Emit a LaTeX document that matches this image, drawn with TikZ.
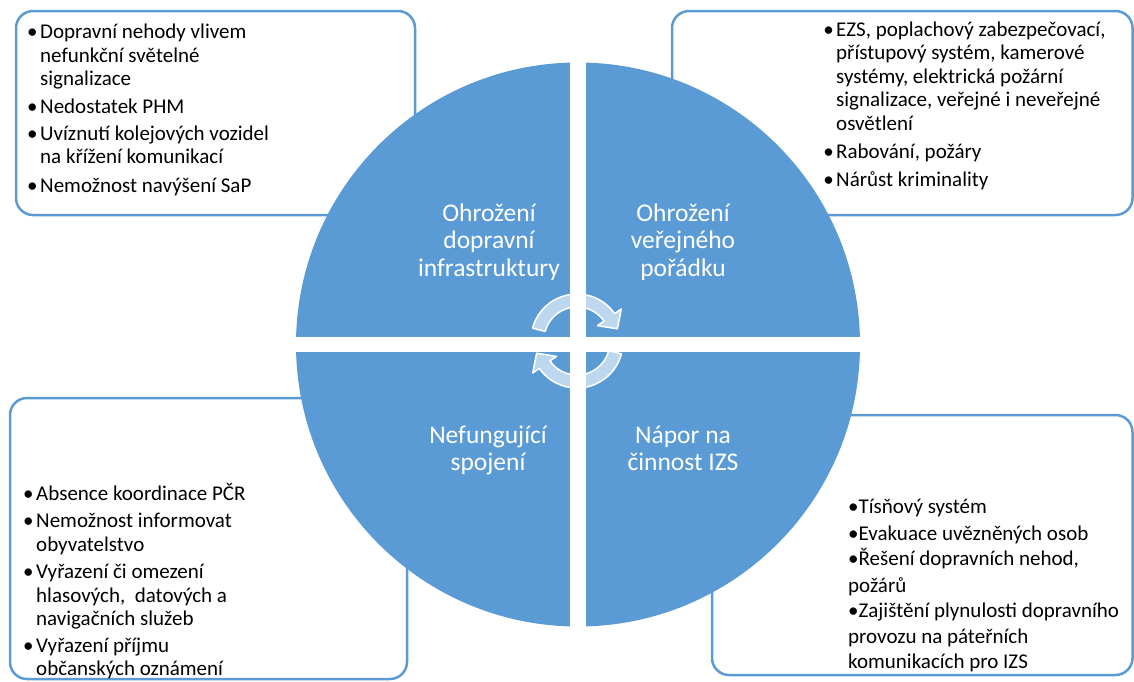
\documentclass[tikz,border=0pt]{standalone}
\usepackage{fontspec}
\setmainfont{Carlito}
\definecolor{qblue}{HTML}{5B9BD5}
\newcommand{\bul}{\llap{•\kern2.5pt}}
\begin{document}
\begin{tikzpicture}[x=1pt,y=-1pt,
  frame/.style={draw=qblue,line width=2.5pt,rounded corners=17pt,fill=white},
  item/.style={anchor=base west,inner sep=0pt,font=\fontsize{21}{25}\selectfont,text=black},
  qlab/.style={anchor=base,inner sep=0pt,font=\fontsize{25.5}{28}\selectfont,text=white},
  cyc/.style={draw=white,line width=1.5pt,fill=white,fill opacity=0.6,line join=round}]
\useasboundingbox (0,0) rectangle (1134,681);

% rounded frames behind the disc
\draw[frame] (16,11) rectangle (415,215);
\draw[frame] (672,11) rectangle (1132.5,215);
\draw[frame] (10,398) rectangle (407,679);
\draw[frame] (712,415) rectangle (1132.5,675);

% the disc split into four quarters
\coordinate (c) at (578,344.5);
\fill[qblue] (c) circle[radius=282pt];
\begin{scope}
  \clip (c) circle[radius=284pt];
  \fill[white] (570.2,0) rectangle (585.8,681);
  \fill[white] (0,337) rectangle (1134,352);
\end{scope}

% quarter titles
\node[qlab] (q1a) at (489,221) {Ohrožení};
\node[qlab] (q1b) at (489,248.5) {dopravní};
\node[qlab] (q1c) at (489,276) {infrastruktury};
\node[qlab] (q2a) at (683,221) {Ohrožení};
\node[qlab] (q2b) at (683,248.5) {veřejného};
\node[qlab] (q2c) at (683,276) {pořádku};
\node[qlab] (q3a) at (488,443) {Nefungující};
\node[qlab] (q3b) at (488,470.5) {spojení};
\node[qlab] (q4a) at (683,443) {Nápor na};
\node[qlab] (q4b) at (683,470.5) {činnost IZS};

% circular arrows in the middle
\draw[cyc,shift={(577,340)}] (165:46pt) arc[start angle=165,end angle=35,radius=46pt]
  -- (35:54pt) -- (40.4pt,11.2pt) -- (35:25pt) -- (35:33pt)
  arc[start angle=35,end angle=165,radius=33pt] -- cycle;
\draw[cyc,shift={(577,342)}] (-15:46pt) arc[start angle=-15,end angle=-145,radius=46pt]
  -- (-145:54pt) -- (-40.4pt,-11.2pt) -- (-145:25pt) -- (-145:33pt)
  arc[start angle=-145,end angle=-15,radius=33pt] -- cycle;

% top left list
\node[item] (tl1) at (40,38.5) {\bul Dopravní nehody vlivem};
\node[item] (tl2) at (40,62) {nefunkční světelné};
\node[item] (tl3) at (40,85) {signalizace};
\node[item] (tl4) at (40,113) {\bul Nedostatek PHM};
\node[item] (tl5) at (40,140) {\bul Uvíznutí kolejových vozidel};
\node[item] (tl6) at (40,163) {na křížení komunikací};
\node[item] (tl7) at (40,192) {\bul Nemožnost navýšení SaP};

% top right list
\node[item] (tr1) at (836,36) {\bul EZS, poplachový zabezpečovací,};
\node[item] (tr2) at (836,59.5) {přístupový systém, kamerové};
\node[item] (tr3) at (836,83) {systémy, elektrická požární};
\node[item] (tr4) at (836,106.5) {signalizace, veřejné i neveřejné};
\node[item] (tr5) at (836,130) {osvětlení};
\node[item] (tr6) at (836,158) {\bul Rabování, požáry};
\node[item] (tr7) at (836,186) {\bul Nárůst kriminality};

% bottom left list
\node[item] (bl1) at (36,500) {\bul Absence koordinace PČR};
\node[item] (bl2) at (36,527) {\bul Nemožnost informovat};
\node[item] (bl3) at (36,551) {obyvatelstvo};
\node[item] (bl4) at (36,578) {\bul Vyřazení či omezení};
\node[item] (bl5) at (36,602) {hlasových,\ \ datových a};
\node[item] (bl6) at (36,625) {navigačních služeb};
\node[item] (bl7) at (36,652) {\bul Vyřazení příjmu};
\node[item] (bl8) at (36,675) {občanských oznámení};

% bottom right list
\node[item] (br1) at (848,513) {•Tísňový systém};
\node[item] (br2) at (848,540) {•Evakuace uvězněných osob};
\node[item] (br3) at (848,565) {•Řešení dopravních nehod,};
\node[item] (br4) at (848,592) {požárů};
\node[item] (br5) at (848,617) {•Zajištění plynulosti dopravního};
\node[item] (br6) at (848,643) {provozu na páteřních};
\node[item] (br7) at (848,668) {komunikacích pro IZS};
\end{tikzpicture}
\end{document}
